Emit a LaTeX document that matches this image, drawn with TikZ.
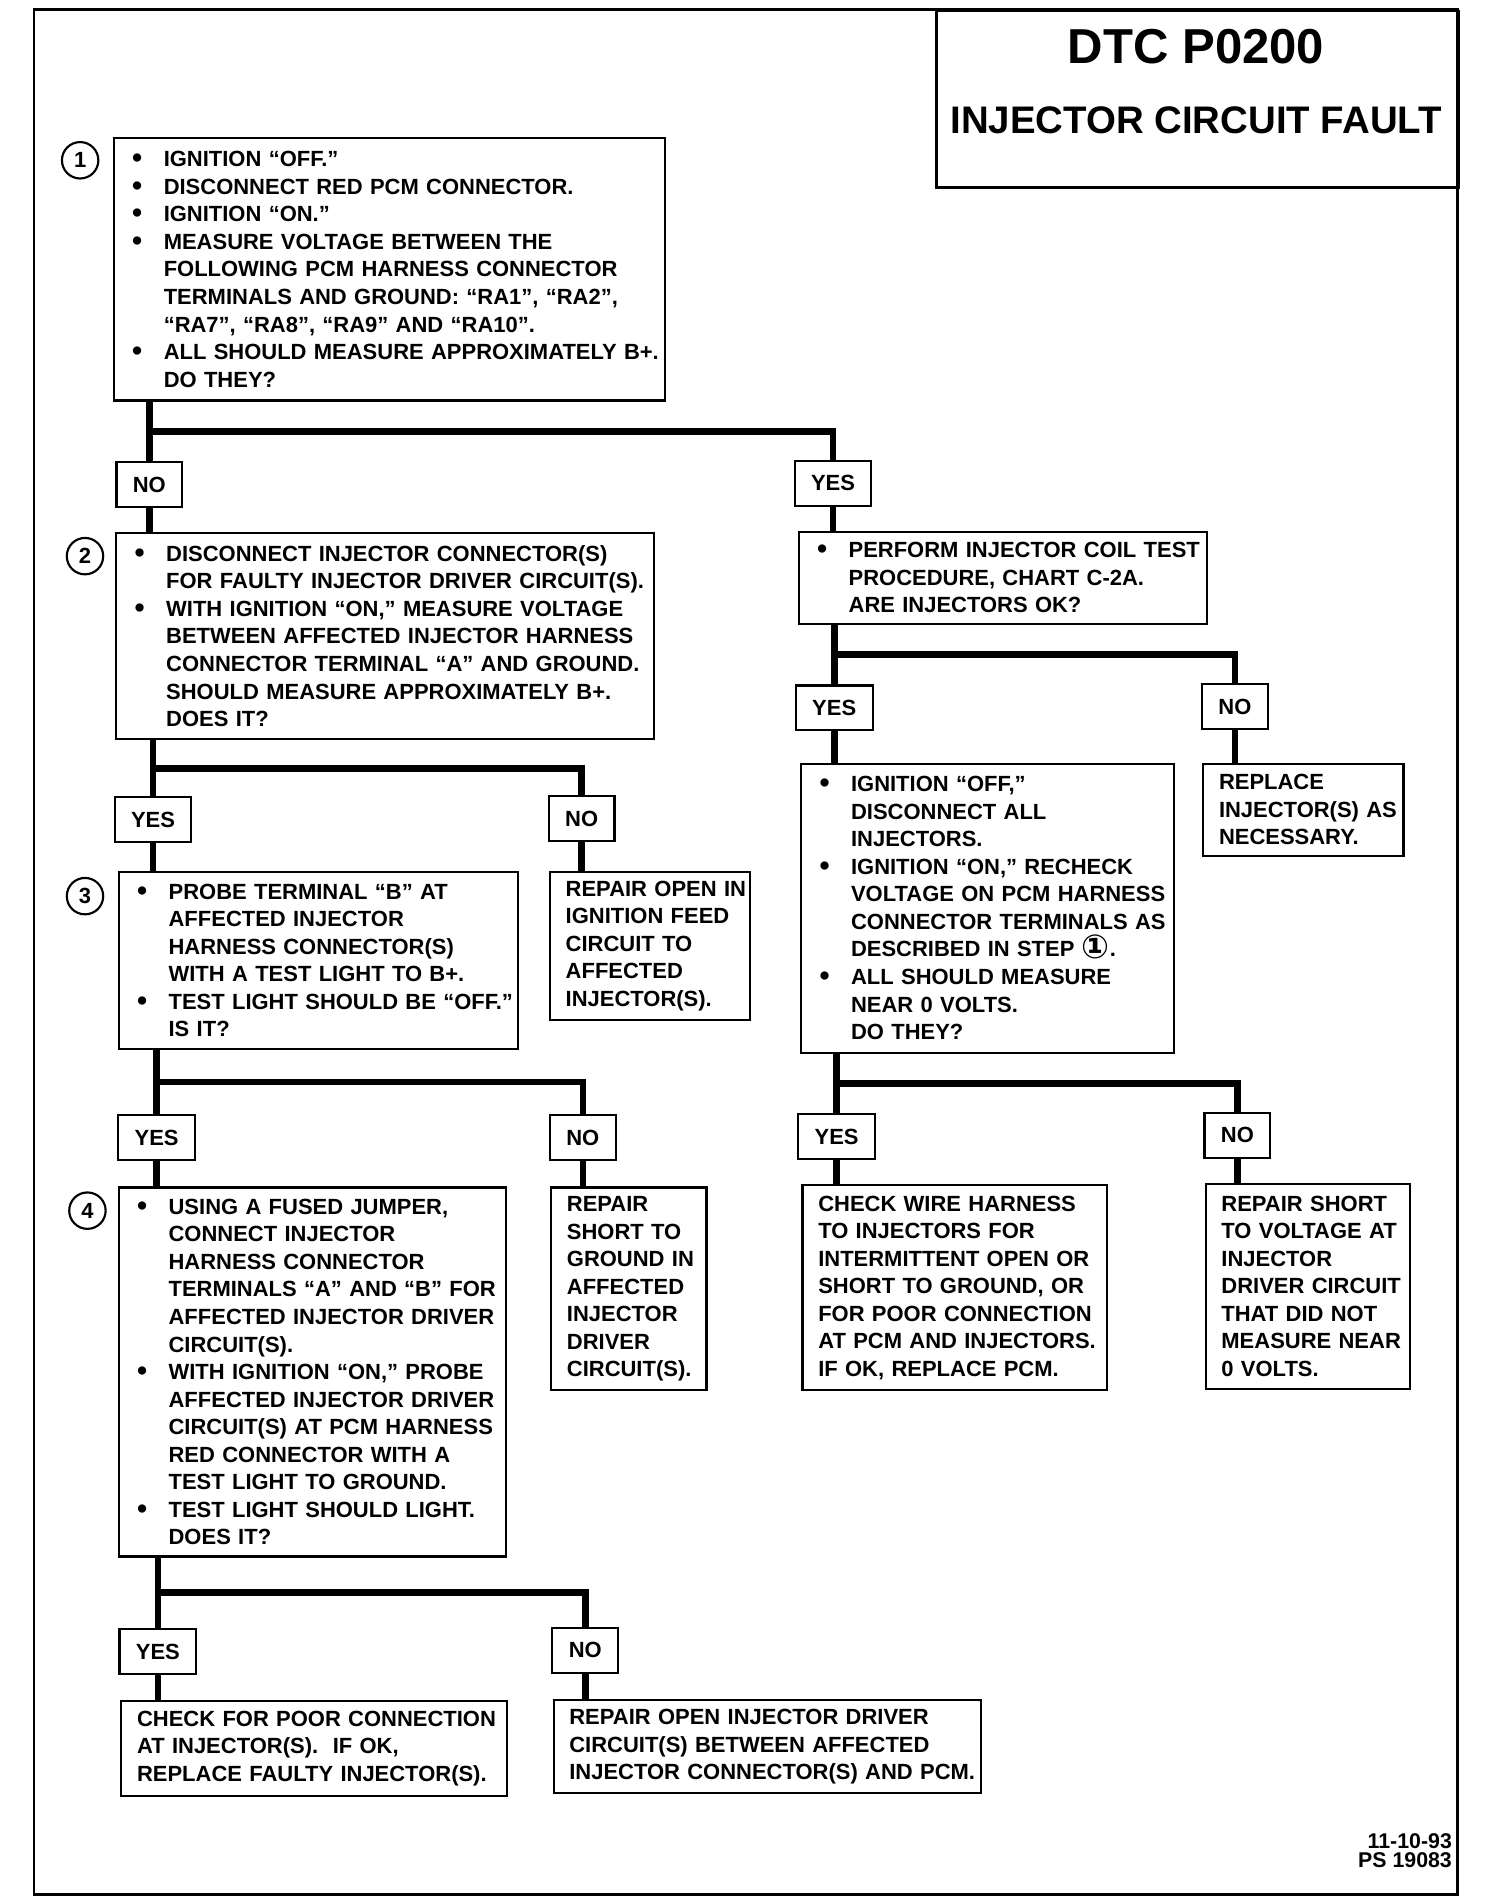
\documentclass[tikz,border=0pt]{standalone}
\usepackage{fontspec}
\setmainfont{Liberation Sans}
\newfontfamily\circfont{DejaVu Sans}
\usetikzlibrary{calc, positioning}

\newcommand{\chartfont}{\fontsize{10.3}{12.9}\selectfont\bfseries}
\newcommand{\bul}{\makebox[0.52cm][l]{\raisebox{-0.5pt}{\fontsize{13.5}{13.5}\selectfont\textbullet}}}
\newcommand{\ind}{\hspace*{0.52cm}}
\newcommand{\stepone}{{\circfont\fontsize{15.5}{13}\selectfont\raisebox{-0.8pt}{①}}}

\tikzset{
  frame/.style={draw, line width=1.4pt},
  titlebox/.style={rectangle, draw, line width=1.3pt, anchor=north west,
    minimum width=8.6cm, minimum height=2.9cm, inner sep=0pt},
  bulbox/.style={rectangle, draw, line width=1pt, anchor=north west, align=left,
    inner xsep=0.06cm, inner ysep=0pt, font=\chartfont,
    execute at begin node={\leftskip=0.24cm\rightskip=-0.12cm plus 1fil}},
  txtbox/.style={rectangle, draw, line width=1pt, anchor=north west, align=left,
    inner xsep=0.06cm, inner ysep=0pt, font=\chartfont,
    execute at begin node={\leftskip=0.2cm\rightskip=-0.12cm plus 1fil}},
  ynbox/.style={rectangle, draw, line width=1pt, minimum height=0.74cm,
    inner xsep=0.27cm, inner ysep=0pt, font=\chartfont},
  stepnum/.style={circle, draw, line width=1pt, minimum size=0.6cm,
    inner sep=0pt, font=\chartfont},
  conn/.style={line width=3.1pt},
  footer/.style={anchor=east, inner sep=0pt, font=\fontsize{10}{10}\selectfont\bfseries}
}

\begin{document}
\begin{tikzpicture}[x=0.02cm, y=-0.02cm]
  \useasboundingbox (0,0) rectangle (1225,1568);

  % page frame and title block
  \draw[frame] (28,8) rectangle (1200,1560);
  \node[titlebox] (title) at (770,8) {};
  \node[font=\fontsize{23}{23}\selectfont\bfseries] (dtc) at (985,38) {DTC P0200};
  \node[font=\fontsize{18}{18}\selectfont\bfseries] (fault) at (985,99) {INJECTOR CIRCUIT FAULT};

  % Step 1
  \node[stepnum] (s1) at (66,132) {1};
  \node[bulbox, text width=8.96cm, minimum height=4.32cm] (b1) at (93,113) {%
    \bul IGNITION “OFF.”\\
    \bul DISCONNECT RED PCM CONNECTOR.\\
    \bul IGNITION “ON.”\\
    \bul MEASURE VOLTAGE BETWEEN THE\\
    \ind FOLLOWING PCM HARNESS CONNECTOR\\
    \ind TERMINALS AND GROUND: “RA1”, “RA2”,\\
    \ind “RA7”, “RA8”, “RA9” AND “RA10”.\\
    \bul ALL SHOULD MEASURE APPROXIMATELY B+.\\
    \ind DO THEY?};
  \node[ynbox] (no1) at (123,399) {NO};
  \node[ynbox] (yes1) at (686,398) {YES};

  % Step 2
  \node[stepnum] (s2) at (70,458) {2};
  \node[bulbox, text width=8.74cm, minimum height=3.4cm] (b2) at (95,438) {%
    \bul DISCONNECT INJECTOR CONNECTOR(S)\\
    \ind FOR FAULTY INJECTOR DRIVER CIRCUIT(S).\\
    \bul WITH IGNITION “ON,” MEASURE VOLTAGE\\
    \ind BETWEEN AFFECTED INJECTOR HARNESS\\
    \ind CONNECTOR TERMINAL “A” AND GROUND.\\
    \ind SHOULD MEASURE APPROXIMATELY B+.\\
    \ind DOES IT?};
  \node[ynbox] (yes3) at (126,675) {YES};
  \node[ynbox] (no3) at (479,674) {NO};

  % coil test branch
  \node[bulbox, text width=6.6cm, minimum height=1.52cm] (coil) at (657,437) {%
    \bul PERFORM INJECTOR COIL TEST\\
    \ind PROCEDURE, CHART C-2A.\\
    \ind ARE INJECTORS OK?};
  \node[ynbox] (yes2) at (687,583) {YES};
  \node[ynbox] (no2) at (1017,582) {NO};
  \node[bulbox, text width=6.02cm, minimum height=4.76cm] (off) at (659,628) {%
    \bul IGNITION “OFF,”\\
    \ind DISCONNECT ALL\\
    \ind INJECTORS.\\
    \bul IGNITION “ON,” RECHECK\\
    \ind VOLTAGE ON PCM HARNESS\\
    \ind CONNECTOR TERMINALS AS\\
    \ind DESCRIBED IN STEP \stepone.\\
    \bul ALL SHOULD MEASURE\\
    \ind NEAR 0 VOLTS.\\
    \ind DO THEY?};
  \node[txtbox, text width=3.18cm, minimum height=1.52cm] (replace) at (990,628) {%
    REPLACE\\ INJECTOR(S) AS\\ NECESSARY.};
  \node[ynbox] (yes5) at (689,936) {YES};
  \node[ynbox] (no5) at (1019,935) {NO};
  \node[txtbox, text width=4.9cm, minimum height=3.38cm] (wire) at (660,975) {%
    CHECK WIRE HARNESS\\
    TO INJECTORS FOR\\
    INTERMITTENT OPEN OR\\
    SHORT TO GROUND, OR\\
    FOR POOR CONNECTION\\
    AT PCM AND INJECTORS.\\
    IF OK, REPLACE PCM.};
  \node[txtbox, text width=3.24cm, minimum height=3.38cm] (shortv) at (992,974) {%
    REPAIR SHORT\\
    TO VOLTAGE AT\\
    INJECTOR\\
    DRIVER CIRCUIT\\
    THAT DID NOT\\
    MEASURE NEAR\\
    0 VOLTS.};

  % Step 3
  \node[stepnum] (s3) at (70,738) {3};
  \node[bulbox, text width=6.46cm, minimum height=2.92cm] (b3) at (97,717) {%
    \bul PROBE TERMINAL “B” AT\\
    \ind AFFECTED INJECTOR\\
    \ind HARNESS CONNECTOR(S)\\
    \ind WITH A TEST LIGHT TO B+.\\
    \bul TEST LIGHT SHOULD BE “OFF.”\\
    \ind IS IT?};
  \node[txtbox, text width=3.18cm, minimum height=2.44cm] (feed) at (452,717) {%
    REPAIR OPEN IN\\
    IGNITION FEED\\
    CIRCUIT TO\\
    AFFECTED\\
    INJECTOR(S).};
  \node[ynbox] (yes4) at (129,937) {YES};
  \node[ynbox] (no4) at (480,937) {NO};

  % Step 4
  \node[stepnum] (s4) at (72,997) {4};
  \node[bulbox, text width=6.26cm, minimum height=6.08cm] (b4) at (97,977) {%
    \bul USING A FUSED JUMPER,\\
    \ind CONNECT INJECTOR\\
    \ind HARNESS CONNECTOR\\
    \ind TERMINALS “A” AND “B” FOR\\
    \ind AFFECTED INJECTOR DRIVER\\
    \ind CIRCUIT(S).\\
    \bul WITH IGNITION “ON,” PROBE\\
    \ind AFFECTED INJECTOR DRIVER\\
    \ind CIRCUIT(S) AT PCM HARNESS\\
    \ind RED CONNECTOR WITH A\\
    \ind TEST LIGHT TO GROUND.\\
    \bul TEST LIGHT SHOULD LIGHT.\\
    \ind DOES IT?};
  \node[txtbox, text width=2.44cm, minimum height=3.34cm] (shortg) at (453,977) {%
    REPAIR\\
    SHORT TO\\
    GROUND IN\\
    AFFECTED\\
    INJECTOR\\
    DRIVER\\
    CIRCUIT(S).};
  \node[ynbox] (yes6) at (130,1360) {YES};
  \node[ynbox] (no6) at (482,1359) {NO};
  \node[txtbox, text width=6.24cm, minimum height=1.56cm] (poor) at (99,1400) {%
    CHECK FOR POOR CONNECTION\\
    AT INJECTOR(S).\ \ IF OK,\\
    REPLACE FAULTY INJECTOR(S).};
  \node[txtbox, text width=6.92cm, minimum height=1.54cm] (openinj) at (455,1399) {%
    REPAIR OPEN INJECTOR DRIVER\\
    CIRCUIT(S) BETWEEN AFFECTED\\
    INJECTOR CONNECTOR(S) AND PCM.};

  % footer
  \node[footer] (date) at (1196,1516) {11-10-93};
  \node[footer] (psno) at (1196,1532) {PS 19083};

  % branches from step 1
  \coordinate (j1) at ($(b1.south -| no1)!0.5!(no1.north)$);
  \draw[conn] (b1.south -| no1) -- (no1.north);
  \draw[conn] (j1) -| (yes1.north);
  \draw[conn] (no1.south) -- (no1.south |- b2.north);
  \draw[conn] (yes1.south) -- (yes1.south |- coil.north);

  % branches from coil test
  \coordinate (j2) at ($(coil.south -| yes2)!0.5!(yes2.north)$);
  \draw[conn] (coil.south -| yes2) -- (yes2.north);
  \draw[conn] (j2) -| (no2.north);
  \draw[conn] (yes2.south) -- (yes2.south |- off.north);
  \draw[conn] (no2.south) -- (no2.south |- replace.north);

  % branches from step 2
  \coordinate (j3) at ($(b2.south -| yes3)!0.5!(yes3.north)$);
  \draw[conn] (b2.south -| yes3) -- (yes3.north);
  \draw[conn] (j3) -| (no3.north);
  \draw[conn] (yes3.south) -- (yes3.south |- b3.north);
  \draw[conn] (no3.south) -- (no3.south |- feed.north);

  % branches from step 3
  \coordinate (j4) at ($(b3.south -| yes4)!0.5!(yes4.north)$);
  \draw[conn] (b3.south -| yes4) -- (yes4.north);
  \draw[conn] (j4) -| (no4.north);
  \draw[conn] (yes4.south) -- (yes4.south |- b4.north);
  \draw[conn] (no4.south) -- (no4.south |- shortg.north);

  % branches from the recheck box
  \coordinate (j5) at ($(off.south -| yes5)!0.5!(yes5.north)$);
  \draw[conn] (off.south -| yes5) -- (yes5.north);
  \draw[conn] (j5) -| (no5.north);
  \draw[conn] (yes5.south) -- (yes5.south |- wire.north);
  \draw[conn] (no5.south) -- (no5.south |- shortv.north);

  % branches from step 4
  \coordinate (j6) at ($(b4.south -| yes6)!0.5!(yes6.north)$);
  \draw[conn] (b4.south -| yes6) -- (yes6.north);
  \draw[conn] (j6) -| (no6.north);
  \draw[conn] (yes6.south) -- (yes6.south |- poor.north);
  \draw[conn] (no6.south) -- (no6.south |- openinj.north);
\end{tikzpicture}
\end{document}
